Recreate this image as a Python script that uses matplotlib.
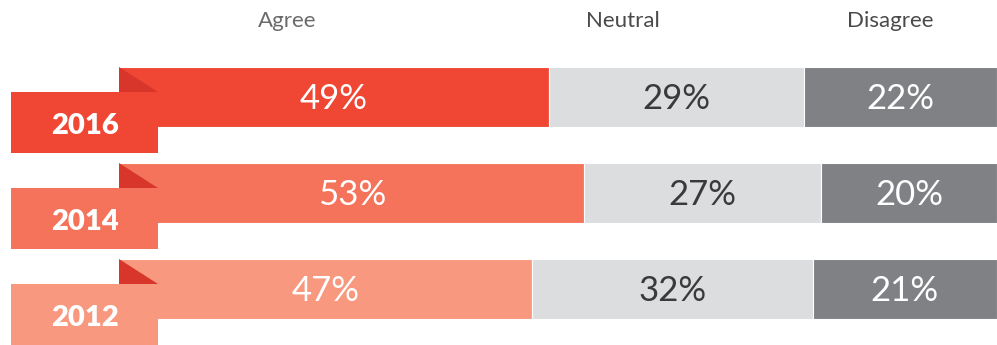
import matplotlib
matplotlib.use("Agg")
import matplotlib.pyplot as plt
from matplotlib.patches import Rectangle, Polygon

years = ["2016", "2014", "2012"]
agree = [49, 53, 47]
neutral = [29, 27, 32]
disagree = [22, 20, 21]
headers = ["Agree", "Neutral", "Disagree"]

agree_colors = ["#F04634", "#F4735A", "#F7987F"]
fold_color = "#D9362B"
neutral_color = "#DCDDDF"
disagree_color = "#808184"

W, H = 997, 345
fig = plt.figure(figsize=(W / 100, H / 100), dpi=100)
ax = fig.add_axes([0, 0, 1, 1])

# pixel mapping helpers (layout only)
x0_px, x100_px = 119, 997
ppp = (x100_px - x0_px) / 100.0  # pixels per percent
row_px = 96.0
first_center_px = 97.0
ax.set_xlim(-x0_px / ppp, 100)
ax.set_ylim((H - first_center_px) / row_px, -first_center_px / row_px)
ax.axis("off")

def px2x(p):
    return (p - x0_px) / ppp

def dy(p):
    return p / row_px

font = "Lato"
bar_h = 60 / row_px
ypos = list(range(len(years)))

ax.barh(ypos, agree, height=bar_h, color=agree_colors, edgecolor="white", linewidth=0.8)
ax.barh(ypos, neutral, left=agree, height=bar_h, color=neutral_color, edgecolor="white", linewidth=0.8)
left2 = [a + n for a, n in zip(agree, neutral)]
ax.barh(ypos, disagree, left=left2, height=bar_h, color=disagree_color, edgecolor="white", linewidth=0.8)

for i, y in enumerate(ypos):
    # fold triangle
    tri = Polygon([(0, y + dy(-30)), (0, y + dy(-5)), (px2x(158), y + dy(-5))],
                  closed=True, color=fold_color, lw=0, zorder=3)
    ax.add_patch(tri)
    # ribbon
    rect = Rectangle((px2x(11), y + dy(-5)), px2x(158) - px2x(11), dy(61),
                     color=agree_colors[i], lw=0, zorder=4)
    ax.add_patch(rect)
    ax.text(px2x(84.5), y + dy(37), years[i], ha="center", va="baseline",
            fontsize=21, fontweight="heavy", color="white", family=font, zorder=5)
    # percent labels
    base = y + dy(12)
    ax.text(agree[i] / 2, base, f"{agree[i]}%", ha="center", va="baseline",
            fontsize=25, fontweight="normal", color="white", family=font, zorder=5)
    ax.text(agree[i] + neutral[i] / 2, base, f"{neutral[i]}%", ha="center", va="baseline",
            fontsize=25, fontweight="normal", color="#3A3A3C", family=font, zorder=5)
    ax.text(left2[i] + disagree[i] / 2, base, f"{disagree[i]}%", ha="center", va="baseline",
            fontsize=25, fontweight="normal", color="white", family=font, zorder=5)

# headers
hdr_x = [287, 623, 890]
hdr_colors = ["#6B6B6D", "#4A4A4C", "#4A4A4C"]
for h, xp, c in zip(headers, hdr_x, hdr_colors):
    ax.text(px2x(xp), dy(27) - first_center_px / row_px, h, ha="center", va="baseline",
            fontsize=16, color=c, family=font)

fig.savefig("out.png", dpi=100)
